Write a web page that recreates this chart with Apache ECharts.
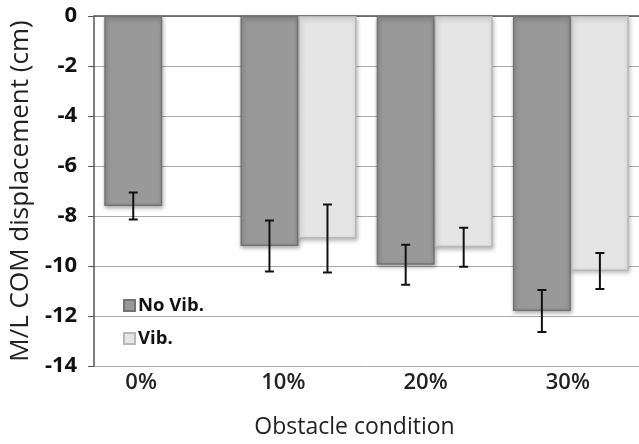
<!DOCTYPE html>
<html><head><meta charset="utf-8">
<script src="https://cdn.jsdelivr.net/npm/echarts@6/dist/echarts.min.js"></script>
<style>html,body{margin:0;padding:0;background:#fff}#c{width:639px;height:444px}</style>
</head><body><div id="c"></div>
<script>
var categories = ['0%', '10%', '20%', '30%'];
var noVib = [-7.6, -9.2, -9.95, -11.8];
var noVibErr = [0.54, 1.02, 0.8, 0.84];
var vib = [null, -8.9, -9.25, -10.2];
var vibErr = [null, 1.36, 0.78, 0.72];
var yTicks = [0, -2, -4, -6, -8, -10, -12, -14];

var FONT = '"Open Sans", sans-serif';
var BARW = 58;

function errData(means, errs) {
  var out = [];
  for (var i = 0; i < means.length; i++) {
    if (means[i] != null) out.push([i, means[i], errs[i]]);
  }
  return out;
}
function errSeries(means, errs, offset) {
  return {
    type: 'custom', xAxisIndex: 0, yAxisIndex: 0, z: 10,
    data: errData(means, errs),
    encode: { x: 0, y: 1 },
    renderItem: function (params, api) {
      var x = api.coord([api.value(0), 0])[0] + offset;
      var m = api.value(1), e = api.value(2);
      var yt = api.coord([0, m + e])[1];
      var yb = api.coord([0, m - e])[1];
      var cw = 4.5;
      var st = { stroke: '#111', lineWidth: 2 };
      return { type: 'group', children: [
        { type: 'line', shape: { x1: x, y1: yt, x2: x, y2: yb }, style: st },
        { type: 'line', shape: { x1: x - cw, y1: yt, x2: x + cw, y2: yt }, style: st },
        { type: 'line', shape: { x1: x - cw, y1: yb, x2: x + cw, y2: yb }, style: st }
      ]};
    }
  };
}

var chart = echarts.init(document.getElementById('c'), null, { renderer: 'canvas' });
chart.setOption({
  animation: false,
  backgroundColor: '#fff',
  grid: [
    { left: 94, top: 16, width: 550, height: 350, containLabel: false },
    { left: 70, top: 16, width: 598, height: 350, containLabel: false }
  ],
  legend: {
    orient: 'vertical', left: 118, top: 291, itemWidth: 11, itemHeight: 11, itemGap: 14,
    icon: 'rect',
    textStyle: { fontFamily: FONT, fontSize: 18.5, fontWeight: 'bold', color: '#111', padding: [0, 0, 0, -2] },
    data: ['No Vib.', 'Vib.']
  },
  xAxis: [
    { type: 'category', gridIndex: 0, data: categories,
      axisLine: { show: true, lineStyle: { color: '#555', width: 1.5 } },
      axisTick: { show: false }, axisLabel: { show: false }, splitLine: { show: false } },
    { type: 'category', gridIndex: 1, data: categories, position: 'bottom',
      axisLine: { show: false }, axisTick: { show: false },
      axisLabel: { show: true, margin: 12, fontFamily: FONT, fontSize: 22, fontWeight: 600, color: '#222' },
      name: 'Obstacle condition', nameLocation: 'middle', nameGap: 56,
      nameTextStyle: { fontFamily: FONT, fontSize: 23, color: '#222' } }
  ],
  yAxis: [
    { type: 'value', gridIndex: 0, min: -14, max: 0, interval: 2,
      axisLine: { show: true, lineStyle: { color: '#555', width: 1.5 } },
      axisTick: { show: true, length: 6, lineStyle: { color: '#555' } },
      splitLine: { show: true, lineStyle: { color: '#aaa', width: 1 } },
      axisLabel: { fontFamily: FONT, fontSize: 22, fontWeight: 'bold', color: '#111', margin: 17 },
      name: 'M/L COM displacement (cm)', nameLocation: 'middle', nameGap: 58, nameRotate: 90,
      nameTextStyle: { fontFamily: FONT, fontSize: 26, color: '#222' } },
    { type: 'value', gridIndex: 1, min: -14, max: 0, show: false }
  ],
  series: [
    { name: 'No Vib.', type: 'bar', data: noVib, barWidth: BARW, barGap: '0%',
      itemStyle: { color: '#999999', borderColor: '#747474', borderWidth: 1.5,
        shadowColor: 'rgba(0,0,0,0.35)', shadowBlur: 4, shadowOffsetX: 1, shadowOffsetY: 2 } },
    { name: 'Vib.', type: 'bar', data: vib, barWidth: BARW, barGap: '0%',
      itemStyle: { color: '#e5e5e5', borderColor: '#b8b8b8', borderWidth: 1.5,
        shadowColor: 'rgba(0,0,0,0.25)', shadowBlur: 4, shadowOffsetX: 1, shadowOffsetY: 2 } },
    errSeries(noVib, noVibErr, -BARW / 2),
    errSeries(vib, vibErr, BARW / 2)
  ]
});
</script></body></html>
